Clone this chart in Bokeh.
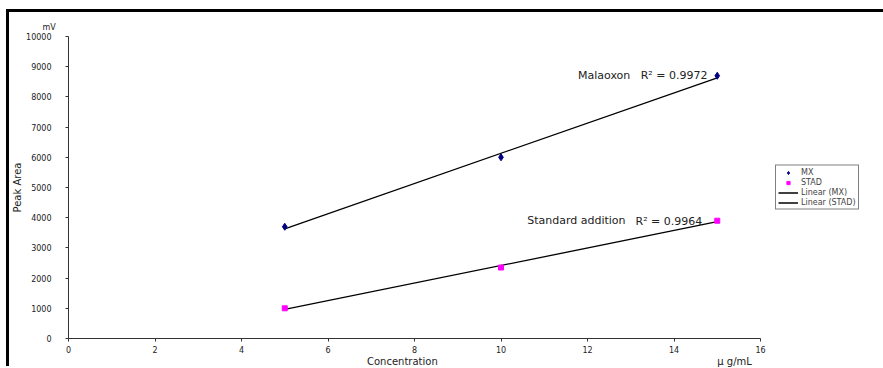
import numpy as np
from bokeh.plotting import figure
from bokeh.models import Range1d, FixedTicker, Label, Legend, LegendItem, LinearAxis
from bokeh.embed import file_html
from bokeh.resources import INLINE

# data
conc = [5, 10, 15]
mx = [3700, 6000, 8700]
stad = [1000, 2350, 3900]
x_ticks = [0, 2, 4, 6, 8, 10, 12, 14, 16]
y_ticks = [0, 1000, 2000, 3000, 4000, 5000, 6000, 7000, 8000, 9000, 10000]
r2_mx = "R\u00b2 = 0.9972"
r2_stad = "R\u00b2 = 0.9964"
x_title = "Concentration"
x_unit = "\u00b5 g/mL"
y_title = "Peak Area"
y_unit = "mV"

FONT = "DejaVu Sans"
TXT = "#222222"

p = figure(frame_width=692, frame_height=302, output_backend="svg", toolbar_location=None,
           x_range=Range1d(0, 16), y_range=Range1d(0, 10000),
           min_border_left=59, min_border_right=0, min_border_top=24, min_border_bottom=27)
p.styles = {"margin-left": "9px", "margin-top": "12px",
            "box-shadow": "-3px -3px 0px 0px black", "outline": "none",
            "border": "none", "overflow": "hidden"}
p.outline_line_color = None
p.border_fill_color = "white"
p.background_fill_color = "white"
p.xgrid.visible = False
p.ygrid.visible = False

p.title.text = y_unit
p.title.align = "left"
p.title.offset = -26
p.title.standoff = 10
p.title.text_font = FONT
p.title.text_font_size = "8px"
p.title.text_font_style = "normal"
p.title.text_color = TXT

for ax in (p.xaxis[0], p.yaxis[0]):
    ax.axis_line_color = "#333333"
    ax.major_tick_line_color = "#333333"
    ax.major_tick_in = 0
    ax.major_tick_out = 3
    ax.minor_tick_line_color = None
    ax.major_label_text_font = FONT
    ax.major_label_text_font_size = "8px"
    ax.major_label_text_color = TXT
    ax.axis_label_text_font = FONT
    ax.axis_label_text_font_style = "normal"
    ax.axis_label_text_font_size = "10px"
    ax.axis_label_text_color = TXT

p.xaxis.ticker = FixedTicker(ticks=x_ticks)
p.yaxis.ticker = FixedTicker(ticks=y_ticks)
p.xaxis.major_label_standoff = 4
p.yaxis.major_label_standoff = 14
p.yaxis.axis_label = y_title
p.yaxis.axis_label_standoff = 0

# second (label-only) axis below: carries the x title and the unit on one line
tpos = [7.72, 15.4]
ax2 = LinearAxis(ticker=FixedTicker(ticks=tpos),
                 major_label_overrides={tpos[0]: x_title, tpos[1]: x_unit})
ax2.axis_line_color = None
ax2.major_tick_line_color = None
ax2.minor_tick_line_color = None
ax2.major_tick_out = 0
ax2.major_tick_in = 0
ax2.major_label_standoff = 0
ax2.major_label_text_font = FONT
ax2.major_label_text_font_size = "10px"
ax2.major_label_text_color = TXT
p.add_layout(ax2, "below")

# trend lines (least-squares fit of the data)
xs = np.array(conc, dtype=float)
k1, b1 = np.polyfit(xs, np.array(mx, dtype=float), 1)
k2, b2 = np.polyfit(xs, np.array(stad, dtype=float), 1)
xl = [conc[0], conc[-1]]
l1 = p.line(xl, [k1 * v + b1 for v in xl], line_color="black", line_width=1.3)
l2 = p.line(xl, [k2 * v + b2 for v in xl], line_color="black", line_width=1.3)

s1 = p.scatter(conc, mx, marker="diamond", size=7, fill_color="#000080", line_color="#000080")
s2 = p.scatter(conc, stad, marker="square", size=5, fill_color="#ff00ff", line_color="#ff00ff")

legend = Legend(items=[
    LegendItem(label="MX", renderers=[s1]),
    LegendItem(label="STAD", renderers=[s2]),
    LegendItem(label="Linear (MX)", renderers=[l1]),
    LegendItem(label="Linear (STAD)", renderers=[l2]),
], location="left")
legend.label_text_font = FONT
legend.label_text_font_size = "8px"
legend.label_height = 8
legend.glyph_height = 8
legend.glyph_width = 20
legend.spacing = 1
legend.padding = 2
legend.margin = 15
legend.border_line_color = "black"
legend.border_line_width = 1
legend.label_standoff = 3
p.add_layout(legend, "right")

def lab(x, y, t, align):
    p.add_layout(Label(x=x, y=y, text=t, text_font=FONT, text_font_size="11px",
                       text_color=TXT, text_align=align, text_baseline="middle"))

lab(12.99, 8710, "Malaoxon", "right")
lab(13.23, 8710, r2_mx, "left")
lab(12.88, 3907, "Standard addition", "right")
lab(13.11, 3880, r2_stad, "left")

open("out.html", "w").write(file_html(p, INLINE))
